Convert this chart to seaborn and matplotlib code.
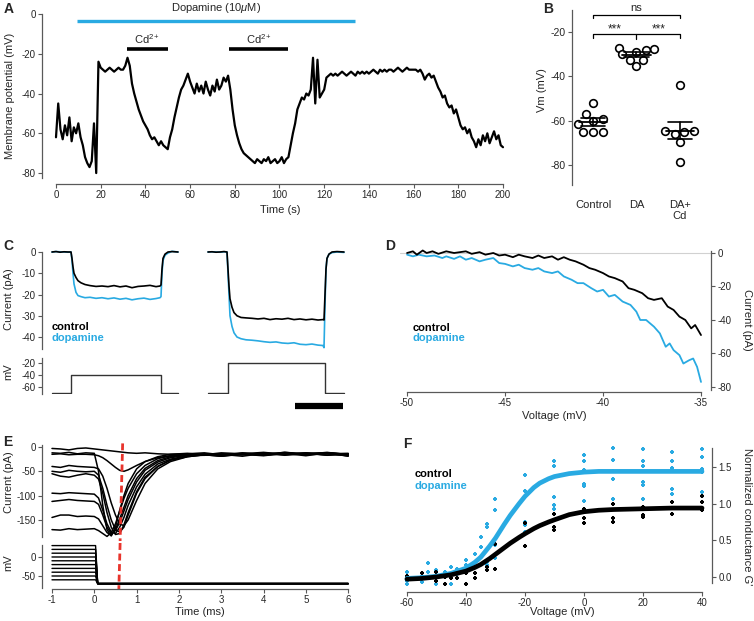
import matplotlib
matplotlib.use("Agg")
import matplotlib.pyplot as plt
import numpy as np
import seaborn as sns

W, H = 754, 621
BLUE = "#29aae2"
SPINE = "0.35"

# ---------------- panel A: membrane potential, 1 s samples
a_time = list(range(0, 201))
a_vm = [-62, -45, -58, -63, -56, -61, -52, -64, -57, -60,
        -55, -62, -66, -72, -75, -77, -74, -55, -80, -24,
        -27, -28, -29, -28, -27, -28, -29, -28, -27, -28,
        -28, -26, -22, -26, -35, -40, -44, -48, -51, -54,
        -56, -58, -61, -63, -62, -64, -66, -64, -66, -67,
        -68, -62, -58, -52, -47, -42, -38, -36, -33, -30,
        -34, -37, -40, -35, -39, -36, -40, -34, -38, -41,
        -36, -39, -33, -38, -36, -32, -34, -31, -38, -48,
        -56, -61, -65, -68, -70, -71, -72, -73, -74, -75,
        -73, -74, -75, -73, -74, -72, -75, -74, -73, -75,
        -74, -72, -75, -73, -72, -66, -60, -55, -48, -45,
        -42, -43, -40, -41, -38, -22, -45, -23, -42, -40,
        -38, -32, -31, -30, -31, -30, -31, -30, -29, -30,
        -31, -30, -29, -30, -31, -29, -30, -29, -30, -29,
        -30, -29, -28, -29, -30, -28, -29, -28, -29, -28,
        -28, -29, -28, -27, -28, -29, -28, -27, -28, -28,
        -28, -28, -29, -28, -30, -33, -31, -30, -32, -31,
        -34, -37, -39, -42, -41, -45, -47, -46, -50, -48,
        -52, -56, -58, -57, -60, -58, -62, -64, -67, -63,
        -66, -61, -64, -60, -65, -62, -59, -63, -61, -66,
        -67]
dopa_window = [9.4, 134]
cd_windows = [[31.6, 50], [77.5, 104]]

# ---------------- panel B: resting potentials
b_order = ["Control", "DA", "DA+Cd"]
b_ctrl = [-52, -57, -59.5, -60, -61.5, -65, -65, -65]
b_da = [-27, -27.5, -28, -29, -30, -32.5, -32.5, -35.5]
b_dacd = [-44, -64.5, -64.5, -65, -66, -69.5, -78.5]

# ---------------- panel C: step currents (two pulses)
c_t1 = [0, 4, 8, 12, 16, 19, 20, 21, 22, 24, 26, 29, 33, 38, 44, 50, 56,
        62, 68, 74, 80, 86, 92, 98, 104, 108, 109, 110, 111, 113, 116, 120, 126]
c_ctrl1 = [0, 0.2, -0.1, 0.1, 0, 0, -3, -7, -10, -12, -13.5, -14.5, -15.3,
           -15.8, -16.2, -16, -16.3, -15.8, -16.4, -16, -16.8, -16.2, -16,
           -15.7, -16.3, -16, -15.5, -8, -3, -1, 0, 0.2, 0]
c_dopa1 = [0, 0.2, 0.1, 0, -0.1, 0, -4, -10, -15, -19, -20.5, -21, -21.5,
           -21.3, -21.8, -21.5, -22, -21.6, -22.2, -21.8, -22.5, -22, -21.7,
           -22.3, -21.9, -21.5, -21, -10, -4, -1.5, -0.5, 0.3, 0]
c_t2 = [156, 160, 164, 168, 172, 175, 176, 177, 178, 180, 182, 185, 189, 194,
        200, 206, 212, 218, 224, 230, 236, 242, 248, 254, 260, 266,
        271, 272, 273, 274, 275, 277, 280, 285, 292]
c_ctrl2 = [0, 0.1, -0.1, 0, 0.2, 0, -8, -16, -22, -26, -28.5, -30, -30.8, -31,
           -31.2, -31.5, -31.2, -31.8, -31.4, -31.6, -31.2, -31.8, -31.5, -31.9,
           -31.6, -32, -31.8, -32, -20, -8, -3, -1, 0, 0.2, 0]
c_dopa2 = [0, 0.1, 0, -0.1, 0.1, 0, -10, -20, -30, -35, -38, -40, -40.8, -41.3,
           -41.5, -41.8, -42.2, -42.5, -42.3, -42.8, -43, -42.7, -43.4, -43.6,
           -43.3, -43.8, -44, -45, -25, -8, -3, -1, -0.3, 0, -0.2]
c_cmd_t1 = [0, 19, 19, 109, 109, 126]
c_cmd_v1 = [-70, -70, -40, -40, -70, -70]
c_cmd_t2 = [156, 176, 176, 273, 273, 292]
c_cmd_v2 = [-70, -70, -20, -20, -70, -70]
c_scale = [243, 291]

# ---------------- panel D: ramp I-V
d_ctrl_v = [-50, -49.7, -49.5, -49.2, -49, -48.7, -48.4, -48, -47.6, -47.3, -47,
            -46.7, -46.3, -46, -45.6, -45.3, -45, -44.6, -44.3, -44, -43.6,
            -43.3, -43, -42.6, -42.3, -42, -41.7, -41.4, -41, -40.7, -40.4,
            -40, -39.7, -39.4, -39, -38.7, -38.4, -38, -37.7, -37.4, -37,
            -36.7, -36.4, -36.1, -35.8, -35.5, -35.3, -35]
d_ctrl_i = [0, 1, -1, 1.5, 0, 1, -0.5, 1, 0, 0.5, 1,
            -0.5, 0.5, -1, 0, -1.5, -1, -2.5, -1, -2, -3,
            -1.5, -3, -2, -4, -2.5, -4, -5, -7, -9, -10,
            -12, -14, -15, -17, -21, -22, -24, -27, -28, -27,
            -32, -34, -38, -40, -45, -43, -49]
d_dopa_v = [-50, -49.7, -49.4, -49, -48.6, -48.2, -48, -47.6, -47.3, -47,
            -46.7, -46.3, -46, -45.6, -45.3, -45, -44.6, -44.3, -44, -43.6,
            -43.3, -43, -42.6, -42.3, -42, -41.6, -41.3, -41, -40.6, -40.3,
            -40, -39.7, -39.4, -39, -38.6, -38.3, -38.1, -37.8, -37.4, -37.1,
            -36.8, -36.6, -36.4, -36.1, -35.9, -35.6, -35.4, -35.2, -35]
d_dopa_i = [-1, -2, -1, -2, -1.5, -3, -2, -3.5, -2, -4,
            -3, -5, -4, -3, -6, -6.5, -8, -7, -9, -10,
            -9, -11, -12, -11, -14, -16, -18, -18, -21, -23,
            -22, -26, -25, -29, -31, -35, -40, -40, -44, -48,
            -56, -54, -58, -61, -66, -64, -63, -68, -77]

# ---------------- panel E: tail currents
e_time = [-1.0, -0.8, -0.6, -0.4, -0.2, 0.0, 0.1, 0.2, 0.3, 0.4, 0.5, 0.6,
          0.7, 0.8, 1.0, 1.2, 1.5, 1.8, 2.2, 2.6, 3.0, 3.5, 4.0, 4.5, 5.0, 5.5, 6.0]
e_i1 = [-3, -4, -6, -3, -2, -4, -5, -6, -7, -8, -9, -10, -11, -12, -13, -12,
        -14, -15, -14, -12, -16, -13, -15, -11, -14, -12, -15]
e_i2 = [-12, -13, -11, -14, -12, -13, -50, -120, -170, -183, -165, -130, -100,
        -75, -45, -30, -20, -15, -13, -16, -12, -14, -11, -15, -12, -14, -13]
e_i3 = [-15, -14, -16, -15, -15, -16, -18, -22, -28, -35, -42, -48, -50, -47,
        -38, -30, -22, -18, -15, -17, -14, -16, -13, -17, -14, -12, -16]
e_i4 = [-40, -42, -38, -40, -41, -42, -45, -60, -85, -115, -140, -158, -162,
        -150, -110, -75, -45, -30, -20, -16, -19, -14, -17, -12, -16, -14, -18]
e_i5 = [-50, -52, -48, -50, -51, -50, -58, -85, -120, -150, -170, -175, -165,
        -140, -95, -65, -40, -27, -19, -15, -18, -13, -17, -14, -15, -11, -16]
e_i6 = [-55, -60, -62, -58, -55, -58, -66, -95, -135, -165, -180, -178, -160,
        -135, -92, -62, -40, -27, -20, -16, -19, -15, -18, -13, -16, -12, -19]
e_i7 = [-95, -96, -94, -95, -96, -97, -105, -130, -158, -175, -178, -165, -145,
        -120, -82, -56, -35, -25, -18, -17, -15, -19, -13, -16, -12, -17, -14]
e_i8 = [-112, -110, -108, -110, -111, -112, -118, -140, -165, -178, -172, -155,
        -132, -108, -72, -48, -31, -22, -17, -15, -18, -14, -16, -11, -15, -13, -18]
e_i9 = [-145, -140, -140, -143, -142, -143, -148, -162, -176, -182, -170, -148,
        -124, -100, -65, -44, -28, -20, -16, -14, -17, -12, -15, -13, -18, -12, -15]
e_i10 = [-170, -171, -168, -170, -169, -168, -172, -178, -184, -176, -158, -132,
         -106, -85, -55, -38, -24, -18, -15, -17, -14, -16, -12, -15, -13, -17, -14]
e_prepulse = [-60, -50, -40, -30, -20, -10, 0, 10, 20, 30]
e_cmd_t = [-1.0, 0.03, 0.08, 6.0]
e_hold = -70
e_marker_t = [0.67, 0.61, 0.58]

# ---------------- panel F: conductance-voltage
f_fit_v = [-60, -55, -50, -45, -40, -37, -35, -32, -30, -27, -25, -22, -20,
           -17, -15, -12, -10, -5, 0, 5, 10, 20, 30, 40]
f_fit_ctrl = [-0.03, -0.02, 0.0, 0.03, 0.08, 0.13, 0.17, 0.25, 0.31, 0.40, 0.46,
              0.54, 0.59, 0.66, 0.70, 0.75, 0.78, 0.85, 0.89, 0.91, 0.92, 0.93,
              0.94, 0.94]
f_fit_dopa = [-0.02, -0.01, 0.01, 0.05, 0.12, 0.2, 0.27, 0.42, 0.53, 0.72, 0.84,
              1.0, 1.1, 1.22, 1.28, 1.34, 1.37, 1.41, 1.43, 1.44, 1.44, 1.44,
              1.44, 1.44]
f_dopa_v = [-60, -60, -60, -60, -55, -55, -53, -53, -50, -50, -50, -47, -47,
            -45, -45, -43, -43, -40, -40, -37, -37, -35, -35, -33, -33, -33, -33,
            -30, -30, -30, -30, -20, -20, -20, -20, -20, -10, -10, -10, -10, -10,
            0, 0, 0, 0, 0, 0, 10, 10, 10, 10, 10, 20, 20, 20, 20, 20, 20,
            30, 30, 30, 30, 30, 40, 40, 40, 40, 40, 40]
f_dopa_g = [0.07, 0, -0.05, -0.09, -0.07, 0.02, 0.19, 0.07, 0.09, 0, -0.09,
            0.07, 0, 0.14, -0.09, 0.11, 0.04, 0.23, 0.16, 0.32, 0.14, 0.55, 0.41,
            0.72, 0.68, 0.16, 0.2, 1.06, 0.91, 0.26, 0.43, 1.39, 1.17, 0.75, 0.71,
            0.62, 1.58, 1.51, 1.09, 0.98, 0.93, 1.66, 1.58, 1.46, 1.27, 1.24, 1.04,
            1.76, 1.59, 1.45, 1.33, 1.06, 1.74, 1.58, 1.51, 1.29, 1.26, 1.06,
            1.70, 1.58, 1.49, 1.2, 1.13, 1.74, 1.63, 1.47, 1.43, 1.16, 1.11]
f_ctrl_v = [-60, -60, -55, -50, -50, -47, -47, -45, -43, -40, -40, -37, -37,
            -33, -33, -30, -30, -20, -20, -10, -10, -10, 0, 0, 0, 10, 10, 10,
            20, 20, 20, 30, 30, 40, 40, 40]
f_ctrl_g = [0.02, -0.03, 0.05, 0.07, -0.05, -0.09, 0, -0.02, -0.02, 0.05, -0.09,
            -0.02, 0.05, 0.14, 0.09, 0.45, 0.11, 0.73, 0.42, 0.86, 0.68, 0.64,
            0.93, 0.8, 0.73, 1.0, 0.8, 0.75, 0.95, 0.84, 0.82, 1.02, 0.86, 1.1,
            1.02, 0.91]

sns.set_theme(style="ticks")
plt.rcParams["font.family"] = ["Liberation Sans", "DejaVu Sans"]
plt.rcParams["mathtext.fontset"] = "custom"
plt.rcParams["mathtext.rm"] = "Liberation Sans"
plt.rcParams["mathtext.it"] = "Liberation Sans:italic"
plt.rcParams["axes.unicode_minus"] = False

fig = plt.figure(figsize=(W / 100, H / 100), dpi=100)


def px_axes(left, top, right, bottom):
    return fig.add_axes([left / W, 1 - bottom / H, (right - left) / W, (bottom - top) / H])


def ptext(x, y, s, **kw):
    kw.setdefault("ha", "center")
    kw.setdefault("va", "center")
    kw.setdefault("fontsize", 8)
    fig.text(x / W, 1 - y / H, s, **kw)


def clean(ax, left=False, right=False, bottom=False, size=7):
    for side, on in (("left", left), ("right", right), ("bottom", bottom), ("top", False)):
        ax.spines[side].set_visible(on)
        ax.spines[side].set_color(SPINE)
        ax.spines[side].set_linewidth(0.9)
    ax.tick_params(axis="both", length=3, width=0.8, color=SPINE, labelsize=size, pad=1.5)
    if not bottom:
        ax.tick_params(axis="x", length=0, labelbottom=False)
    if right:
        ax.yaxis.tick_right()
    if not (left or right):
        ax.tick_params(axis="y", length=0, labelleft=False)
    ax.set_facecolor("none")
    ax.set_xlabel("")
    ax.set_ylabel("")


def line(ax, x, y, color, lw):
    sns.lineplot(x=x, y=y, ax=ax, color=color, lw=lw, estimator=None, sort=False)


# ---- A
ax = px_axes(42, 5, 505, 184)
line(ax, a_time, a_vm, "black", 1.6)
ax.set_xlim(-6.26, 200.9)
ax.set_ylim(-85.5, 4.53)
clean(ax, left=True, bottom=True)
ax.spines["left"].set_bounds(-82.5, 0)
ax.spines["bottom"].set_bounds(0, 200)
ax.set_xticks(range(0, 201, 20))
ax.set_yticks([0, -20, -40, -60, -80])
ax.plot(dopa_window, [-3.5, -3.5], color=BLUE, lw=2.4, solid_capstyle="butt")
ax.text(np.mean(dopa_window), -0.5, "Dopamine (10$\\mu$M)", ha="center", va="bottom", fontsize=8)
for w in cd_windows:
    ax.plot(w, [-17.6, -17.6], color="black", lw=2.6, solid_capstyle="butt")
    ax.text(np.mean(w), -16.3, "Cd$^{2+}$", ha="center", va="bottom", fontsize=8)
ptext(10, 96, "Membrane potential (mV)", rotation=90)
ptext(280, 210, "Time (s)")

# ---- B
ax = px_axes(572, 3, 712, 185)
b_groups = ["Control"] * len(b_ctrl) + ["DA"] * len(b_da) + ["DA+Cd"] * len(b_dacd)
sns.swarmplot(x=b_groups, y=b_ctrl + b_da + b_dacd, order=b_order, ax=ax,
              color="white", edgecolor="black", linewidth=1.2, size=5.5, zorder=3)
for i, vals in enumerate([b_ctrl, b_da, b_dacd]):
    m = np.mean(vals)
    se = np.std(vals, ddof=1) / np.sqrt(len(vals))
    ax.plot([i - 0.33, i + 0.33], [m, m], color="black", lw=1.3, zorder=4)
    ax.plot([i, i], [m - se, m + se], color="black", lw=1.2, zorder=4)
    for e in (m - se, m + se):
        ax.plot([i - 0.28, i + 0.28], [e, e], color="black", lw=1.2, zorder=4)
ax.set_xlim(-0.483, 2.736)
ax.set_ylim(-89.1, -6.9)
clean(ax, left=True, size=7.5)
ax.spines["left"].set_bounds(-89, -10)
ax.set_yticks([-20, -40, -60, -80])
ax.set_xticks([0, 1, 2])
ax.set_xticklabels(["Control", "DA", "DA+\nCd"], fontsize=8, va="top", linespacing=1.1)
ax.tick_params(axis="x", length=0, labelbottom=True, pad=11)
ax.plot([0, 0, 2, 2], [-13.6, -12.3, -12.3, -13.6], color="black", lw=0.9)
ax.plot([0, 0, 2, 2], [-22.6, -20.9, -20.9, -22.6], color="black", lw=0.9)
ax.plot([1, 1], [-20.9, -23.0], color="black", lw=0.9)
ax.text(1, -9.0, "ns", ha="center", va="center", fontsize=8)
for xs in (0.5, 1.5):
    ax.text(xs, -18.8, "***", ha="center", va="center", fontsize=8.5)
ptext(542, 90, "Vm (mV)", rotation=90)

# ---- C
ax = px_axes(42, 245, 352, 350)
line(ax, c_t1, c_dopa1, BLUE, 1.2)
line(ax, c_t1, c_ctrl1, "black", 1.2)
line(ax, c_t2, c_dopa2, BLUE, 1.2)
line(ax, c_t2, c_ctrl2, "black", 1.2)
ax.set_xlim(-10, 300)
ax.set_ylim(-46.1, 3.29)
clean(ax, left=True)
ax.spines["left"].set_bounds(-45.6, 0)
ax.set_yticks([0, -10, -20, -30, -40])
ax.text(0, -35.3, "control", color="black", fontsize=8, fontweight="bold", va="center")
ax.text(0, -40.5, "dopamine", color=BLUE, fontsize=8, fontweight="bold", va="center")
ptext(9, 299, "Current (pA)", rotation=90)

ax = px_axes(42, 356, 352, 394)
line(ax, c_cmd_t1, c_cmd_v1, "0.2", 1.0)
line(ax, c_cmd_t2, c_cmd_v2, "0.2", 1.0)
ax.plot(c_scale, [-91.7, -91.7], color="black", lw=4.5, solid_capstyle="butt", clip_on=False)
ax.set_xlim(-10, 300)
ax.set_ylim(-71.7, -8.3)
clean(ax, left=True)
ax.spines["left"].set_bounds(-71, -11)
ax.set_yticks([-20, -40, -60])
ptext(8, 372, "mV", rotation=90)

# ---- D
ax = px_axes(400, 240, 711, 392)
ax.axhline(0, color="0.82", lw=0.8)
line(ax, d_dopa_v, d_dopa_i, BLUE, 1.3)
line(ax, d_ctrl_v, d_ctrl_i, "black", 1.3)
ax.set_xlim(-50.36, -34.49)
ax.set_ylim(-83, 7.76)
clean(ax, right=True, bottom=True)
ax.spines["right"].set_bounds(-82, 1)
ax.spines["bottom"].set_bounds(-50, -35)
ax.set_xticks([-50, -45, -40, -35])
ax.set_yticks([0, -20, -40, -60, -80])
ax.text(-49.7, -44.8, "control", color="black", fontsize=8, fontweight="bold", va="center")
ax.text(-49.7, -50.7, "dopamine", color=BLUE, fontsize=8, fontweight="bold", va="center")
ptext(554, 416, "Voltage (mV)")
ptext(747, 320, "Current (pA)", rotation=270)

# ---- E
ax = px_axes(42, 440, 352, 541)
for tr in (e_i1, e_i2, e_i3, e_i4, e_i5, e_i6, e_i7, e_i8, e_i9, e_i10):
    line(ax, e_time, tr, "black", 1.1)
ax.plot(e_marker_t[:2], [7.4, -193.4], color="#e8342c", lw=2, dashes=(2.5, 1.3))
ax.set_xlim(-1.236, 6.09)
ax.set_ylim(-193.4, 14.4)
clean(ax, left=True)
ax.spines["left"].set_bounds(-185, 4)
ax.set_yticks([0, -50, -100, -150])
ptext(9, 482, "Current (pA)", rotation=90)

ax = px_axes(42, 543, 352, 589)
for lvl in e_prepulse:
    line(ax, e_cmd_t, [lvl, lvl, e_hold, e_hold], "black", 1.0)
ax.plot(e_marker_t[1:], [36.8, -84.2], color="#e8342c", lw=2, dashes=(2.5, 1.3))
ax.set_xlim(-1.236, 6.09)
ax.set_ylim(-84.2, 36.8)
clean(ax, left=True, bottom=True)
ax.spines["left"].set_bounds(-82, 32)
ax.spines["bottom"].set_bounds(-1, 6)
ax.set_yticks([0, -50])
ax.set_xticks(range(-1, 7))
ptext(8, 563, "mV", rotation=90)
ptext(200, 612, "Time (ms)")

# ---- F
ax = px_axes(400, 445, 712, 592)
sns.scatterplot(x=f_dopa_v, y=f_dopa_g, ax=ax, color=BLUE, marker="+", s=12, linewidth=1.5)
sns.scatterplot(x=f_ctrl_v, y=f_ctrl_g, ax=ax, color="black", marker="+", s=12, linewidth=1.5)
line(ax, f_fit_v, f_fit_dopa, BLUE, 3.4)
line(ax, f_fit_v, f_fit_ctrl, "black", 3.4)
ax.set_xlim(-62.37, 43.39)
ax.set_ylim(-0.205, 1.80)
clean(ax, right=True, bottom=True)
ax.spines["right"].set_bounds(-0.08, 1.76)
ax.spines["bottom"].set_bounds(-60, 40)
ax.set_xticks(range(-60, 41, 20))
ax.set_yticks([0, 0.5, 1.0, 1.5])
ax.set_yticklabels(["0.0", "0.5", "1.0", "1.5"])
ax.text(-57.3, 1.405, "control", color="black", fontsize=8, fontweight="bold", va="center")
ax.text(-57.3, 1.24, "dopamine", color=BLUE, fontsize=8, fontweight="bold", va="center")
ptext(562, 612, "Voltage (mV)")
ptext(747, 517, "Normalized conductance G'", rotation=270)

# panel letters
for lx, ly, s in ((4, 2, "A"), (543, 2, "B"), (3, 239, "C"), (385, 239, "D"),
                  (3, 435, "E"), (403, 437, "F")):
    ptext(lx, ly, s, ha="left", va="top", fontsize=10, fontweight="bold")

fig.savefig("out.png", dpi=100)
